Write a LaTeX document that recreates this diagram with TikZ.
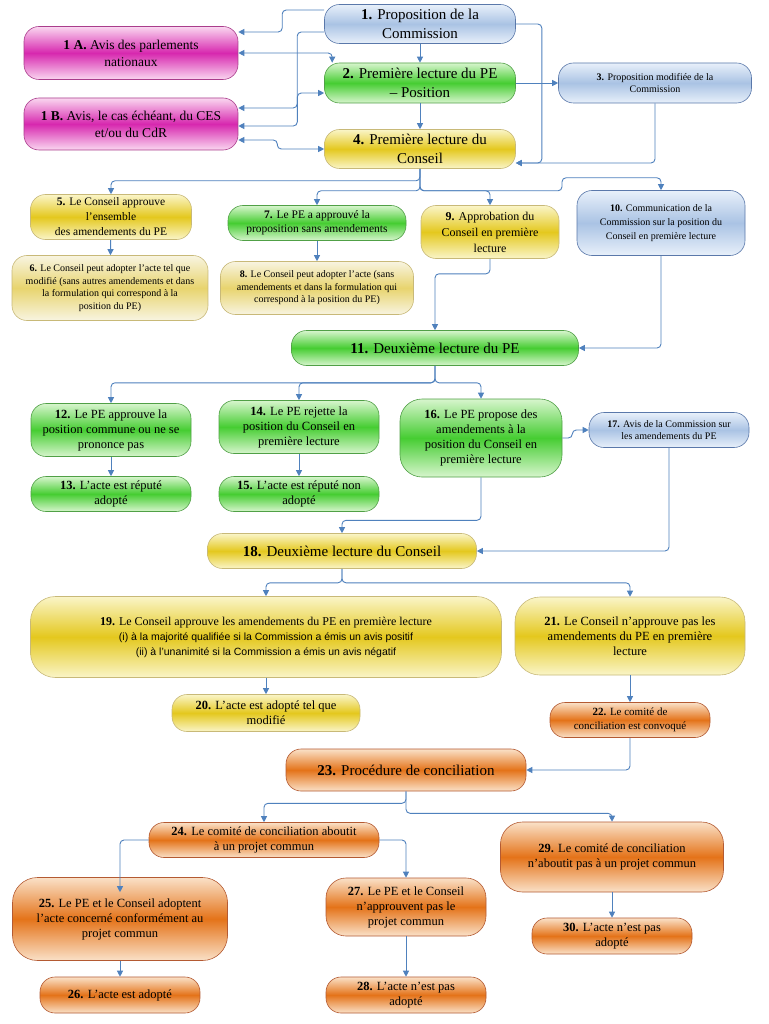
\documentclass[tikz,border=0pt]{standalone}
\usepackage{fontspec}
\setmainfont{Liberation Serif}
\setsansfont{Liberation Sans}
\usetikzlibrary{positioning, arrows.meta, calc}
\definecolor{LinkBlue}{RGB}{79,129,189}
\definecolor{BlueFill}{RGB}{170,195,228}
\definecolor{BlueLight}{RGB}{232,240,250}
\definecolor{BlueLine}{RGB}{90,120,170}
\definecolor{PinkFill}{RGB}{215,40,175}
\definecolor{PinkLight}{RGB}{250,215,240}
\definecolor{PinkLine}{RGB}{170,60,140}
\definecolor{GreenFill}{RGB}{70,205,50}
\definecolor{GreenLight}{RGB}{215,245,205}
\definecolor{GreenLine}{RGB}{80,160,70}
\definecolor{YellowFill}{RGB}{228,200,30}
\definecolor{YellowLight}{RGB}{250,245,200}
\definecolor{PaleFill}{RGB}{232,212,110}
\definecolor{PaleLight}{RGB}{248,244,225}
\definecolor{YellowLine}{RGB}{200,185,120}
\definecolor{OrangeFill}{RGB}{228,115,25}
\definecolor{OrangeLight}{RGB}{250,225,200}
\definecolor{OrangeLine}{RGB}{180,90,50}
\tikzset{
    box/.style={
        rounded corners=15pt,
        align=center,
        inner sep=2pt,
        line width=0.6pt,
        font=\fontsize{12.5}{15}\selectfont
    },
    big/.style={font=\fontsize{15}{19}\selectfont},
    small/.style={font=\fontsize{10}{12.5}\selectfont},
    bluebox/.style={box, draw=BlueLine, top color=BlueLight, bottom color=BlueLight, middle color=BlueFill},
    pinkbox/.style={box, draw=PinkLine, top color=PinkLight, bottom color=PinkLight, middle color=PinkFill},
    greenbox/.style={box, draw=GreenLine, top color=GreenLight, bottom color=GreenLight, middle color=GreenFill},
    yellowbox/.style={box, draw=YellowLine, top color=YellowLight, bottom color=YellowLight, middle color=YellowFill},
    palebox/.style={box, draw=YellowLine, top color=PaleLight, bottom color=PaleLight, middle color=PaleFill},
    orangebox/.style={box, draw=OrangeLine, top color=OrangeLight, bottom color=OrangeLight, middle color=OrangeFill},
    conn/.style={
        draw=LinkBlue,
        line width=0.9pt,
        rounded corners=4pt,
        -{Triangle[length=6pt, width=6pt]}
    },
    both/.style={conn, {Triangle[length=6pt, width=6pt]}-{Triangle[length=6pt, width=6pt]}}
}

\begin{document}
\begin{tikzpicture}[x=1pt, y=-1pt]

    \useasboundingbox[fill=white] (0,0) rectangle (768,1024);

    % ============================================================================
    % FIRST READING
    % ============================================================================

    \node[bluebox, big, minimum width=191, minimum height=39] (n1) at (420,24)
        {\textbf{1.} Proposition de la\\Commission};
    \node[pinkbox, minimum width=214, minimum height=53, font=\fontsize{13.5}{17}\selectfont] (n1a) at (131,53)
        {\textbf{1 A.} Avis des parlements\\nationaux};
    \node[greenbox, big, minimum width=191, minimum height=40] (n2) at (420,83)
        {\textbf{2.} Première lecture du PE\\– Position};
    \node[bluebox, small, minimum width=193, minimum height=40] (n3) at (655,83)
        {\textbf{3.} Proposition modifiée de la\\Commission};
    \node[pinkbox, minimum width=214, minimum height=52, font=\fontsize{13.5}{17}\selectfont] (n1b) at (131,124)
        {\textbf{1 B.} Avis, le cas échéant, du CES\\et/ou du CdR};
    \node[yellowbox, big, minimum width=191, minimum height=39] (n4) at (420,149)
        {\textbf{4.} Première lecture du\\Conseil};

    \node[yellowbox, minimum width=161, minimum height=45, font=\fontsize{11.5}{15}\selectfont] (n5) at (111,217)
        {\textbf{5.} Le Conseil approuve\\l'ensemble\\des amendements du PE};
    \node[palebox, small, minimum width=196, minimum height=65] (n6) at (110,288)
        {\textbf{6.} Le Conseil peut adopter l'acte tel que\\modifié (sans autres amendements et dans\\la formulation qui correspond à la\\position du PE)};
    \node[greenbox, minimum width=178, minimum height=35, font=\fontsize{11.5}{14}\selectfont] (n7) at (317,223)
        {\textbf{7.} Le PE a approuvé la\\proposition sans amendements};
    \node[palebox, small, minimum width=193, minimum height=53] (n8) at (317,288)
        {\textbf{8.} Le Conseil peut adopter l'acte (sans\\amendements et dans la formulation qui\\correspond à la position du PE)};
    \node[yellowbox, minimum width=138, minimum height=53, font=\fontsize{12}{16}\selectfont] (n9) at (490,232)
        {\textbf{9.} Approbation du\\Conseil en première\\lecture};
    \node[bluebox, small, minimum width=168, minimum height=65, font=\fontsize{10}{14}\selectfont] (n10) at (661,223)
        {\textbf{10.} Communication de la\\Commission sur la position du\\Conseil en première lecture};

    % ============================================================================
    % SECOND READING
    % ============================================================================

    \node[greenbox, big, minimum width=287, minimum height=35] (n11) at (435,348)
        {\textbf{11.} Deuxième lecture du PE};
    \node[greenbox, minimum width=160, minimum height=53] (n12) at (111,430)
        {\textbf{12.} Le PE approuve la\\position commune ou ne se\\prononce pas};
    \node[greenbox, minimum width=160, minimum height=35] (n13) at (111,494)
        {\textbf{13.} L'acte est réputé\\adopté};
    \node[greenbox, minimum width=160, minimum height=53] (n14) at (299,427)
        {\textbf{14.} Le PE rejette la\\position du Conseil en\\première lecture};
    \node[greenbox, minimum width=160, minimum height=35] (n15) at (299,494)
        {\textbf{15.} L'acte est réputé non\\adopté};
    \node[greenbox, minimum width=162, minimum height=78, rounded corners=22pt] (n16) at (481,438)
        {\textbf{16.} Le PE propose des\\amendements à la\\position du Conseil en\\première lecture};
    \node[bluebox, small, minimum width=160, minimum height=35] (n17) at (669,430)
        {\textbf{17.} Avis de la Commission sur\\les amendements du PE};

    \node[yellowbox, big, minimum width=269, minimum height=35] (n18) at (342,551)
        {\textbf{18.} Deuxième lecture du Conseil};
    \node[yellowbox, minimum width=471, minimum height=81, rounded corners=25pt, font=\fontsize{12}{15}\selectfont] (n19) at (266,637)
        {\textbf{19.} Le Conseil approuve les amendements du PE en première lecture\\
         {\sffamily\fontsize{10.5}{15}\selectfont (i) à la majorité qualifiée si la Commission a émis un avis positif}\\
         {\sffamily\fontsize{10.5}{15}\selectfont (ii) à l'unanimité si la Commission a émis un avis négatif}};
    \node[yellowbox, minimum width=230, minimum height=78, rounded corners=25pt] (n21) at (630,636)
        {\textbf{21.} Le Conseil n'approuve pas les\\amendements du PE en première\\lecture};
    \node[yellowbox, minimum width=188, minimum height=37] (n20) at (266,713)
        {\textbf{20.} L'acte est adopté tel que\\modifié};
    \node[orangebox, minimum width=160, minimum height=35, font=\fontsize{11}{14}\selectfont] (n22) at (630,720)
        {\textbf{22.} Le comité de\\conciliation est convoqué};

    % ============================================================================
    % CONCILIATION
    % ============================================================================

    \node[orangebox, big, minimum width=240, minimum height=42] (n23) at (406,770)
        {\textbf{23.} Procédure de conciliation};
    \node[orangebox, minimum width=230, minimum height=35] (n24) at (264,840)
        {\textbf{24.} Le comité de conciliation aboutit\\à un projet commun};
    \node[orangebox, minimum width=223, minimum height=70, rounded corners=22pt] (n29) at (612,857)
        {\textbf{29.} Le comité de conciliation\\n'aboutit pas à un projet commun};
    \node[orangebox, minimum width=215, minimum height=83, rounded corners=25pt] (n25) at (120,919)
        {\textbf{25.} Le PE et le Conseil adoptent\\l'acte concerné conformément au\\projet commun};
    \node[orangebox, minimum width=160, minimum height=58, rounded corners=20pt] (n27) at (406,907)
        {\textbf{27.} Le PE et le Conseil\\n'approuvent pas le\\projet commun};
    \node[orangebox, minimum width=160, minimum height=36] (n30) at (612,936)
        {\textbf{30.} L'acte n'est pas\\adopté};
    \node[orangebox, minimum width=160, minimum height=36] (n26) at (120,995)
        {\textbf{26.} L'acte est adopté};
    \node[orangebox, minimum width=160, minimum height=36] (n28) at (406,995)
        {\textbf{28.} L'acte n'est pas\\adopté};

    % ============================================================================
    % CONNECTORS
    % ============================================================================

    % Commission and opinions
    \draw[conn] ($(n1.west)+(0,-14)$) -- ++(-42,0) |- ($(n1a.east)+(0,-21)$);
    \draw[conn] ($(n1.west)+(0,8)$) -- ++(-27,0) |- ($(n1b.east)+(0,-16)$);
    \draw[both] (n1a.east) -| ($(n2.north west)+(8,0)$);
    \draw[both] ($(n1b.east)+(0,2)$) -- ++(59,0) |- ($(n2.west)+(0,10)$);
    \draw[both] ($(n1b.east)+(0,16)$) -- ++(39,0) |- (n4.west);
    \draw[conn] (n1) -- (n2);
    \draw[conn] (n2) -- (n4);
    \draw[conn] (n2.east) -- (n3.west);
    \draw[conn] (n1.east) -- ++(26,0) |- ($(n4.east)+(0,14)$);
    \draw[conn] (n3.south) |- ($(n4.east)+(0,14)$);

    % First reading outcomes
    \draw[conn] (n4.south) -- ++(0,12) -| (n5.north);
    \draw[conn] (n4.south) -- ++(0,22) -| (n7.north);
    \draw[conn] (n4.south) -- ++(0,22) -| (n9.north);
    \draw[conn] (n4.south) -- ++(0,22) -| ++(142,-13) -| (n10.north);
    \draw[conn] (n5) -- (n6);
    \draw[conn] (n7) -- (n8);
    \draw[conn] (n9.south) -- ++(0,15) -| (n11.north);
    \draw[conn] (n10.south) |- (n11.east);

    % Second reading of the PE
    \draw[conn] (n11.south) -- ++(0,17) -| (n12.north);
    \draw[conn] (n11.south) -- ++(0,17) -| (n14.north);
    \draw[conn] (n11.south) -- ++(0,17) -| (n16.north);
    \draw[conn] (n12) -- (n13);
    \draw[conn] (n14) -- (n15);
    \draw[conn] (n16.east) -- ++(10,0) |- (n17.west);
    \draw[conn] (n16.south) -- ++(0,43) -| (n18.north);
    \draw[conn] (n17.south) |- (n18.east);

    % Second reading of the Council
    \draw[conn] (n18.south) -- ++(0,14) -| (n19.north);
    \draw[conn] (n18.south) -- ++(0,14) -| (n21.north);
    \draw[conn] (n19.south -| n20.north) -- (n20.north);
    \draw[conn] (n21.south) -- (n22.north);
    \draw[conn] (n22.south) |- (n23.east);

    % Conciliation
    \draw[conn] (n23.south) -- ++(0,12) -| (n24.north);
    \draw[conn] (n23.south) -- ++(0,22) -| (n29.north);
    \draw[conn] (n24.west) -| ($(n25.north)+(0,15)$);
    \draw[conn] (n24.east) -| (n27.north);
    \draw[conn] (n25) -- (n26);
    \draw[conn] (n27) -- (n28);
    \draw[conn] (n29) -- (n30);

\end{tikzpicture}
\end{document}
